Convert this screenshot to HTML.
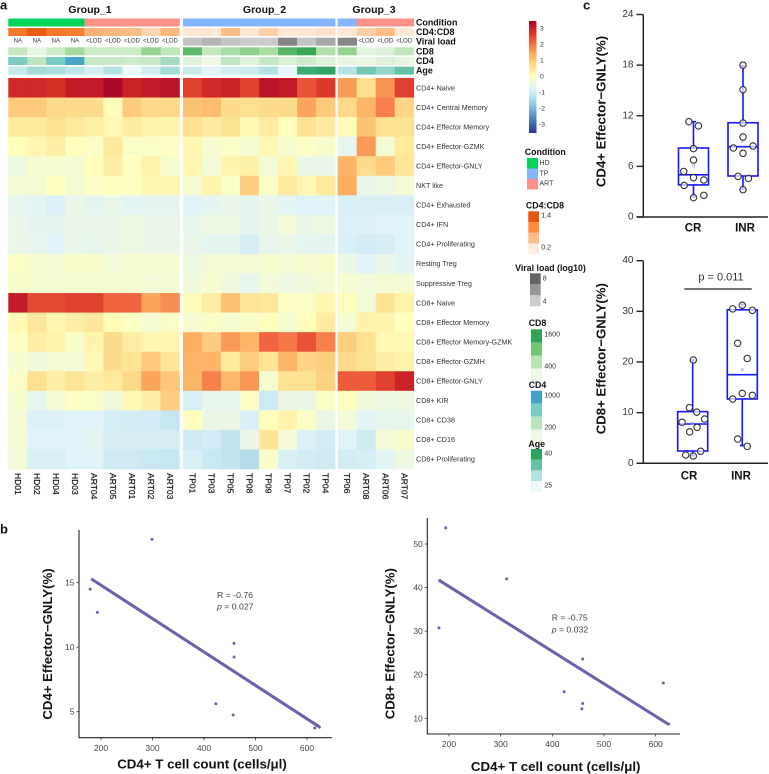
<!DOCTYPE html>
<html lang="en">
<head>
<meta charset="utf-8">
<title>Effector-GNLY heatmap and correlation figure</title>
<style>
html,body{margin:0;padding:0;background:#fff;}
svg{display:block;font-family:"Liberation Sans",sans-serif;}
.t-bold{font-weight:bold;fill:#111;}
.leg-title{font-weight:bold;font-size:8.8px;fill:#111;text-anchor:middle;dominant-baseline:central;}
.leg-label{font-size:7px;fill:#333;dominant-baseline:central;}
.panel{font-weight:bold;font-size:13px;fill:#111;dominant-baseline:central;}
.ytitle{font-weight:bold;font-size:13.2px;fill:#111;text-anchor:middle;dominant-baseline:central;}
.xtitle{font-weight:bold;font-size:13.3px;fill:#111;text-anchor:middle;dominant-baseline:central;}
.stat{font-size:8.7px;fill:#444;dominant-baseline:central;}
</style>
</head>
<body>
<svg id="figure" xmlns="http://www.w3.org/2000/svg" width="769" height="774" viewBox="0 0 769 774">
  <defs>
    <linearGradient id="zgrad" x1="0" y1="0" x2="0" y2="1">
      <stop offset="0" stop-color="#a50026"/><stop offset="0.1" stop-color="#d73027"/><stop offset="0.2" stop-color="#f46d43"/><stop offset="0.3" stop-color="#fdae61"/><stop offset="0.4" stop-color="#fee090"/><stop offset="0.5" stop-color="#ffffbf"/><stop offset="0.6" stop-color="#e0f3f8"/><stop offset="0.7" stop-color="#abd9e9"/><stop offset="0.8" stop-color="#74add1"/><stop offset="0.9" stop-color="#4575b4"/><stop offset="1" stop-color="#313695"/>
    </linearGradient>
  </defs>
  <rect width="769" height="774" fill="#fff"/>
  <text class="panel" x="0" y="5">a</text>
  <text class="panel" x="0" y="529">b</text>
  <text class="panel" x="583" y="5">c</text>

  <g id="heatmap"></g>

  <g id="colorbar">
    <rect x="529" y="21" width="7.5" height="112" fill="url(#zgrad)"/>
  </g>

  <g>
    <text class="leg-title" x="545.3" y="152">Condition</text>
    <rect x="527" y="158" width="11" height="10.5" fill="#00d35a"/>
    <rect x="527" y="168.5" width="11" height="10.5" fill="#84b6ff"/>
    <rect x="527" y="179" width="11" height="10.5" fill="#ff9288"/>
    <text class="leg-label" x="539.5" y="163.5">HD</text>
    <text class="leg-label" x="539.5" y="174">TP</text>
    <text class="leg-label" x="539.5" y="184">ART</text>
  </g>
  <g>
    <text class="leg-title" x="545" y="205.5">CD4:CD8</text>
    <rect x="528.3" y="211.3" width="10.7" height="10.8" fill="#e6550d"/>
    <rect x="528.3" y="222" width="10.7" height="10.8" fill="#fd8d3c"/>
    <rect x="528.3" y="232.7" width="10.7" height="10.8" fill="#fdbe85"/>
    <rect x="528.3" y="243.4" width="10.7" height="10.8" fill="#feedde"/>
    <text class="leg-label" x="541.3" y="216">1.4</text>
    <text class="leg-label" x="541.3" y="248">0.2</text>
  </g>
  <g>
    <text class="leg-title" x="550.5" y="268">Viral load (log10)</text>
    <rect x="530" y="273.3" width="10.7" height="11" fill="#636363"/>
    <rect x="530" y="284.3" width="10.7" height="11" fill="#969696"/>
    <rect x="530" y="295.3" width="10.7" height="11" fill="#cccccc"/>
    <text class="leg-label" x="542.7" y="279">8</text>
    <text class="leg-label" x="542.7" y="302">4</text>
  </g>
  <g>
    <text class="leg-title" x="537.5" y="323">CD8</text>
    <rect x="531" y="329.3" width="11" height="13.1" fill="#31a354"/>
    <rect x="531" y="342.4" width="11" height="13.1" fill="#74c476"/>
    <rect x="531" y="355.5" width="11" height="13.1" fill="#bae4b3"/>
    <rect x="531" y="368.6" width="11" height="13.1" fill="#edf8e9"/>
    <text class="leg-label" x="544.4" y="335">1600</text>
    <text class="leg-label" x="544.4" y="367">400</text>
  </g>
  <g>
    <text class="leg-title" x="537.5" y="385">CD4</text>
    <rect x="531" y="390.7" width="11" height="13" fill="#43a2ca"/>
    <rect x="531" y="403.7" width="11" height="13" fill="#7bccc4"/>
    <rect x="531" y="416.7" width="11" height="13" fill="#bae4bc"/>
    <rect x="531" y="429.7" width="11" height="13" fill="#f0f9e8"/>
    <text class="leg-label" x="544.4" y="396">1000</text>
    <text class="leg-label" x="544.4" y="428">200</text>
  </g>
  <g>
    <text class="leg-title" x="536.7" y="444">Age</text>
    <rect x="531" y="449" width="11" height="10.7" fill="#2ca25f"/>
    <rect x="531" y="459.7" width="11" height="10.7" fill="#66c2a4"/>
    <rect x="531" y="470.4" width="11" height="10.7" fill="#b2e2e2"/>
    <rect x="531" y="481.1" width="11" height="10.7" fill="#edf8fb"/>
    <text class="leg-label" x="544.4" y="454">40</text>
    <text class="leg-label" x="544.4" y="486">25</text>
  </g>

  <g id="boxTop">
    <text class="ytitle" transform="translate(601,111.5) rotate(-90)">CD4+ Effector−GNLY(%)</text>
  </g>
  <g id="boxBottom">
    <text class="ytitle" transform="translate(601,358.7) rotate(-90)">CD8+ Effector−GNLY(%)</text>
    <line x1="684.3" x2="751.7" y1="289" y2="289" stroke="#222" stroke-width="1.2"/>
    <text x="721" y="277.7" font-size="11" fill="#333" text-anchor="middle" dominant-baseline="central">p = 0.011</text>
  </g>

  <g id="scatterLeft">
    <text class="ytitle" transform="translate(47.7,644) rotate(-90)">CD4+ Effector−GNLY(%)</text>
    <text class="xtitle" x="202" y="764">CD4+ T cell count (cells/μl)</text>
    <text class="stat" x="217" y="595">R = -0.76</text>
    <text class="stat" x="217" y="606.7"><tspan font-style="italic">p</tspan> = 0.027</text>
  </g>
  <g id="scatterRight">
    <text class="ytitle" transform="translate(390,643.7) rotate(-90)">CD8+ Effector−GNLY(%)</text>
    <text class="xtitle" x="555.7" y="766.5">CD4+ T cell count (cells/μl)</text>
    <text class="stat" x="551.7" y="617.7">R = -0.75</text>
    <text class="stat" x="551.7" y="629.3"><tspan font-style="italic">p</tspan> = 0.032</text>
  </g>
</svg>
<script>
// ---- heatmap data ----
const sampleLabels = ["HD01","HD02","HD04","HD03","ART04","ART05","ART01","ART02","ART03","TP01","TP03","TP05","TP08","TP09","TP07","TP02","TP04","TP06","ART08","ART06","ART07"];
const groupNames = ["Group_1","Group_2","Group_3"];
const groupSizes = [9,8,4];
const rowLabels = ["CD4+ Naive","CD4+ Central Memory","CD4+ Effector Memory","CD4+ Effector-GZMK","CD4+ Effector-GNLY","NKT like","CD4+ Exhausted","CD4+ IFN","CD4+ Proliferating","Resting Treg","Suppressive Treg","CD8+ Naive","CD8+ Effector Memory","CD8+ Effector Memory-GZMK","CD8+ Effector-GZMH","CD8+ Effector-GNLY","CD8+ KIR","CD8+ CD38","CD8+ CD16","CD8+ Proliferating"];
const heatValues = [
 [2.9,2.9,2.8,3.1,3.1,3.4,3.0,3.1,3.2, 2.6,2.9,3.0,2.6,3.2,3.1,2.4,2.7, 1.6,0.7,1.7,2.6],
 [1.0,1.0,0.8,0.75,0.75,0.1,1.0,0.8,0.8, 1.1,1.2,0.75,0.7,0.75,0.75,1.5,1.0, 0.8,1.3,1.9,0.85],
 [0.5,0.5,0.7,0.5,0.35,0.15,0.45,0.3,0.25, 0.7,0.45,0.65,0.15,0.45,0.05,0.65,0.45, 0.1,1.1,0.7,0.65],
 [0.05,0.2,0.4,0.05,-0.1,0.5,-0.1,-0.1,-0.05, 0.2,-0.2,-0.1,-0.25,0.15,-0.2,-0.05,-0.15, -0.55,1.6,-0.25,0.5],
 [-0.4,-0.2,-0.2,-0.3,0.05,0.4,0.0,0.3,-0.2, 0.2,-0.3,0.25,0.35,-0.3,0.2,-0.5,-0.5, 1.3,0.75,1.0,0.55],
 [-0.25,-0.25,0.0,-0.25,-0.05,0.0,-0.05,0.2,0.2, -0.2,0.25,-0.1,0.95,-0.1,0.5,0.15,0.5, 1.4,-0.5,-0.4,-0.25],
 [-0.55,-0.65,-0.75,-0.5,-0.6,-0.5,-0.65,-0.6,-0.6, -0.7,-0.6,-0.5,-0.6,-0.5,-0.65,-0.7,-0.7, -0.8,-0.8,-0.8,-0.8],
 [-0.5,-0.6,-0.6,-0.5,-0.5,-0.5,-0.4,-0.5,-0.5, -0.55,-0.4,-0.4,-0.6,-0.5,-0.3,-0.5,-0.4, -0.75,-0.75,-0.7,-0.7],
 [-0.5,-0.55,-0.7,-0.5,-0.55,-0.5,-0.4,-0.5,-0.5, -0.5,-0.6,-0.6,-0.85,-0.55,-0.5,-0.6,-0.6, -0.8,-0.9,-0.85,-0.7],
 [-0.1,-0.2,-0.3,-0.15,-0.15,-0.3,-0.2,-0.2,-0.2, -0.4,-0.3,-0.3,-0.3,-0.2,-0.3,-0.2,-0.15, -0.45,-0.7,-0.5,-0.65],
 [-0.15,-0.2,-0.2,-0.2,-0.2,-0.2,-0.2,-0.3,-0.25, -0.35,-0.2,-0.35,-0.55,-0.3,-0.4,-0.35,-0.25, -0.2,-0.3,-0.25,-0.25],
 [3.1,2.5,2.5,2.6,2.6,2.2,2.2,1.5,1.75, 0.1,0.4,1.1,0.6,0.55,-0.05,-0.1,0.2, 0.05,-0.3,0.65,0.3],
 [0.15,0.55,0.2,0.4,0.55,0.1,-0.05,-0.25,-0.1, -0.2,-0.1,-0.2,-0.15,0.05,-0.2,0.05,0.45, -0.25,0.3,0.3,0.0],
 [-0.05,0.4,0.3,-0.15,0.25,0.75,0.4,0.2,0.2, 1.4,1.0,1.6,1.3,2.2,2.0,2.4,1.9, 0.95,0.7,0.15,0.15],
 [-0.2,-0.35,-0.25,-0.3,0.15,0.75,0.6,1.0,0.6, 1.3,1.3,0.5,0.95,0.6,1.3,0.85,0.95, 0.8,0.65,0.4,0.3],
 [-0.1,0.7,0.4,0.6,0.4,0.5,0.8,1.5,1.05, 1.3,1.9,1.25,1.65,-0.2,0.65,0.65,0.9, 2.3,2.3,2.6,3.0],
 [-0.2,-0.55,-0.3,-0.05,-0.1,-0.35,0.15,0.4,0.95, -0.8,-0.55,-0.55,-0.05,-0.95,-0.45,-0.45,-0.1, 0.05,-0.35,-0.4,-0.4],
 [-0.25,-0.75,-0.75,-0.7,-0.7,-0.85,-0.9,-0.9,-1.05, 0.0,-0.45,-0.45,-0.8,0.05,0.3,-0.1,-0.45, -0.3,-0.65,-0.55,-0.55],
 [-0.25,-0.7,-0.7,-0.7,-0.6,-0.85,-0.85,-0.85,-0.85, -0.95,-0.9,-1.1,-0.5,0.6,-0.3,-0.75,-0.9, -0.7,-0.95,-0.3,-0.15],
 [-0.3,-0.8,-0.8,-0.7,-0.7,-0.95,-0.95,-1.0,-1.05, -0.8,-1.0,-1.1,-1.3,-0.15,-0.8,-0.9,-0.95, -0.9,-0.85,-0.65,-0.4]
];
const colorbarTicks = [3,2,1,0,-1,-2,-3];
const conditionValues = ["HD","HD","HD","HD","ART","ART","ART","ART","ART","TP","TP","TP","TP","TP","TP","TP","TP","TP","ART","ART","ART"];
const ratioValues = [1.15,1.35,1.15,1.1,0.7,0.65,0.6,0.4,0.65, 0.25,0.25,0.6,0.25,0.45,0.25,0.25,0.3, 0.25,0.45,0.6,0.25];
const viralValues = ["NA","NA","NA","NA","<LOD","<LOD","<LOD","<LOD","<LOD", 4.5,5,4.5,4.2,4.2,6.7,4.5,5.4, 6.6,"<LOD","<LOD","<LOD"];
const cd8Values = [600,300,550,850,550,550,550,950,650, 1300,600,800,1000,800,1350,1550,750, 950,350,400,650];
const cd4Values = [740,450,740,980,400,400,380,400,570, 300,200,440,290,420,310,370,290, 240,230,300,240];
const ageValues = [28.5,31,30.5,28.8,27,30,25,27.5,31, 28,26,27.5,27.8,30,25.5,38.5,39.5, 30,34,32,35];

// ---- box plot data ----
const boxCategories = ["CR","INR"];
const cd4BoxTicks = [0,6,12,18,24];
const cd4CrValues = [11.3,10.8,8.1,6.75,5.4,4.66,4.38,3.75,2.57,2.3];
const cd4CrJitter = [-0.31,0.33,0,0,-0.65,0,0.69,-0.62,0.69,0];
const cd4InrValues = [18,15.1,11.14,9.48,8.18,8.41,7.55,4.82,4.58,3.24];
const cd4InrJitter = [0,0,0,0,-0.64,0.67,0,-0.33,0.36,0];
const cd4CrStats = [2.4,3.8,5.0,8.18,11.3,6.04];
const cd4InrStats = [3.3,4.86,8.33,11.17,17.9,9.0];
const cd8BoxTicks = [0,10,20,30,40];
const cd8CrValues = [20.4,11.0,10.1,8.75,8.1,7.1,6.2,2.37,1.64,1.44];
const cd8CrJitter = [0.04,-0.22,0.27,0.8,-0.71,0.29,-0.2,0.53,-0.47,0.04];
const cd8InrValues = [31.2,30.5,30.2,23.7,20.7,13.8,13.4,12.7,4.8,3.35];
const cd8InrJitter = [0,-0.64,0.67,-0.31,0.33,0,0.67,-0.64,-0.31,0.33];
const cd8CrStats = [1.5,2.43,7.76,10.2,20.4,7.9];
const cd8InrStats = [3.5,12.7,17.5,30.3,31.4,18.5];

// ---- scatter data ----
const scatterXTicks = [200,300,400,500,600];
const leftYTicks = [5,10,15];
const leftCounts = [179,193,299,458.4,458.4,423,456.5,615,624];
const leftGnly = [14.5,12.7,18.36,10.3,9.24,5.62,4.74,3.74,3.8];
const leftFitX = [181,625];
const leftFitY = [15.3,3.8];
const rightYTicks = [10,20,30,40,50];
const rightCounts = [193.6,180.6,311.6,458.7,423,458.7,457,614.7,182,625];
const rightGnly = [53.7,30.75,42,23.6,16.1,13.4,12.2,18.1,41.6,8.7];
const rightFitX = [180.6,625];
const rightFitY = [41.7,8.6];

// ---- helpers ----
const NS = "http://www.w3.org/2000/svg";
function mk(tag, parent, attrs) {
  const e = document.createElementNS(NS, tag);
  for (const k in attrs) e.setAttribute(k, attrs[k]);
  parent.appendChild(e);
  return e;
}
function linear(d0, d1, r0, r1) { return v => r0 + (v - d0) * (r1 - r0) / (d1 - d0); }
function hexRgb(h) { return [1,3,5].map(i => parseInt(h.substr(i,2),16)); }
function ramp(colors, lo, hi) {
  return v => {
    let t = (Math.min(hi, Math.max(lo, v)) - lo) / (hi - lo) * (colors.length - 1);
    const i = Math.min(colors.length - 2, Math.floor(t));
    t -= i;
    const a = hexRgb(colors[i]), b = hexRgb(colors[i + 1]);
    return "rgb(" + a.map((c, j) => Math.round(c + (b[j] - c) * t)).join(",") + ")";
  };
}
const zColor = ramp(["#313695","#4575b4","#74add1","#abd9e9","#e0f3f8","#ffffbf","#fee090","#fdae61","#f46d43","#d73027","#a50026"], -3.5, 3.5);
const ratioColor = ramp(["#feedde","#fdbe85","#fd8d3c","#e6550d"], 0.2, 1.4);
const viralColor = ramp(["#d2d2d2","#969696","#636363"], 4, 8);
const cd8Color = ramp(["#edf8e9","#bae4b3","#74c476","#31a354"], 250, 1600);
const cd4Color = ramp(["#f0f9e8","#bae4bc","#7bccc4","#43a2ca"], 200, 1000);
const ageColor = ramp(["#edf8fb","#b2e2e2","#66c2a4","#2ca25f"], 25, 40);
const conditionColor = { HD: "#00d35a", TP: "#84b6ff", ART: "#ff9288" };

// ---- heatmap ----
const hm = document.getElementById("heatmap");
const groupStart = [8.3, 183, 337.7];
const cellW = 19.02;
const cellH = 19.55;
const heatTop = 78;
function colX(c) {
  let g = 0, off = c;
  while (off >= groupSizes[g]) { off -= groupSizes[g]; g++; }
  return groupStart[g] + off * cellW;
}
groupNames.forEach((name, g) => {
  const cx = [90, 264.5, 374][g];
  const t = mk("text", hm, { x: cx, y: 10, "text-anchor": "middle", "dominant-baseline": "central", "font-size": 10.5, "font-weight": "bold", fill: "#111" });
  t.textContent = name;
  
  
});
heatValues.forEach((row, r) => {
  row.forEach((v, c) => {
    const cell = mk("rect", hm, { x: colX(c), y: heatTop + r * cellH, width: cellW + 0.3, height: cellH + 0.3, fill: zColor(v) });
    
    
  });
  const lab = mk("text", hm, { x: 416, y: heatTop + (r + 0.5) * cellH, "font-size": 7.2, fill: "#333", "dominant-baseline": "central" });
  lab.textContent = rowLabels[r];
  
  
});
sampleLabels.forEach((s, c) => {
  const lab = mk("text", hm, { transform: "translate(" + (colX(c) + cellW / 2) + ",473) rotate(90)", "font-size": 8.5, fill: "#111", stroke: "#111", "stroke-width": 0.2, "dominant-baseline": "central" });
  lab.textContent = s;
  
  
});
const annTracks = [
  { label: "Condition", y: 18.5, values: conditionValues, color: v => conditionColor[v] },
  { label: "CD4:CD8", y: 28, values: ratioValues, color: ratioColor },
  { label: "Viral load", y: 37.7, values: viralValues, color: viralColor },
  { label: "CD8", y: 47.3, values: cd8Values, color: cd8Color },
  { label: "CD4", y: 57, values: cd4Values, color: cd4Color },
  { label: "Age", y: 66.6, values: ageValues, color: ageColor }
];
annTracks.forEach(track => {
  track.values.forEach((v, c) => {
    if (typeof v === "string" && track.label === "Viral load") {
      const t = mk("text", hm, { x: colX(c) + cellW / 2, y: track.y + 4, "font-size": 6, fill: "#333", "text-anchor": "middle", "dominant-baseline": "central" });
      t.textContent = v;
      
      
    } else {
      const cell = mk("rect", hm, { x: colX(c), y: track.y, width: cellW + 0.3, height: 8, fill: track.color(v) });
      
      
    }
  });
  const lab = mk("text", hm, { x: 416, y: track.y + 4, "font-size": 8.9, "font-weight": "bold", fill: "#111", "dominant-baseline": "central" });
  lab.textContent = track.label;
  
  
});

// ---- colorbar ticks ----
const cbg = document.getElementById("colorbar");
const cbY = linear(-3.5, 3.5, 133, 21);
colorbarTicks.forEach(v => {
  const t = mk("text", cbg, { x: v < 0 ? 539 : 540, y: cbY(v), "font-size": 6.8, fill: "#333", "dominant-baseline": "central" });
  t.textContent = v < 0 ? "-" + Math.abs(v) : String(v);
  
  
});

// ---- box plots ----
function drawBoxPlot(g, cfg) {
  const y = linear(cfg.ticks[0], cfg.ticks[cfg.ticks.length - 1], cfg.y0, cfg.y1);
  const blue = "#1616ff";
  const yAxis = mk("line", g, { x1: 643.3, x2: 643.3, y1: cfg.y1, y2: cfg.y0, stroke: "#222", "stroke-width": 1.5 });
  
  
  const xAxis = mk("line", g, { x1: 636.5, x2: 768, y1: cfg.y0, y2: cfg.y0, stroke: "#222", "stroke-width": 1.5 });
  
  
  cfg.ticks.forEach(v => {
    const tick = mk("line", g, { x1: 636.5, x2: 643.3, y1: y(v), y2: y(v), stroke: "#222", "stroke-width": 1.4 });
    
    
    const lab = mk("text", g, { x: 633.5, y: y(v), "font-size": 10, fill: "#333", "text-anchor": "end", "dominant-baseline": "central" });
    lab.textContent = v;
    
    
  });
  cfg.boxes.forEach((b, i) => {
    const cx = b.cx, hw = 15;
    const lab = mk("text", g, { x: b.labelX, y: cfg.y0 + cfg.labelDy, "font-size": 11.5, "font-weight": "bold", fill: "#111", "text-anchor": "middle", "dominant-baseline": "central" });
    lab.textContent = boxCategories[i];
    
    
    const s = b.stats;
    const whisker = mk("path", g, { d: "M" + cx + " " + y(s[3]) + "V" + y(s[4]) + "M" + (cx - 2.5) + " " + y(s[4]) + "H" + (cx + 2.5) + "M" + cx + " " + y(s[1]) + "V" + y(s[0]) + "M" + (cx - 2.5) + " " + y(s[0]) + "H" + (cx + 2.5), stroke: blue, "stroke-width": 1.6, fill: "none" });
    
    
    const box = mk("rect", g, { x: cx - hw, y: y(s[3]), width: 2 * hw, height: y(s[1]) - y(s[3]), stroke: blue, "stroke-width": 1.6, fill: "none" });
    
    
    const med = mk("line", g, { x1: cx - hw, x2: cx + hw, y1: y(s[2]), y2: y(s[2]), stroke: blue, "stroke-width": 1.6 });
    
    
    const mean = mk("rect", g, { x: cx - 1, y: y(s[5]) - 1, width: 2, height: 2, stroke: "#9a9aff", "stroke-width": 0.6, fill: "none" });
    
    
    b.values.forEach((v, k) => {
      const pt = mk("circle", g, { cx: cx + b.jitter[k] * hw, cy: y(v), r: 3.2, fill: "#fff", "fill-opacity": 0.7, stroke: "#333", "stroke-width": 1.1 });
      
      
    });
  });
}
drawBoxPlot(document.getElementById("boxTop"), {
  ticks: cd4BoxTicks, y0: 217, y1: 14.5, labelDy: 11.5,
  boxes: [
    { cx: 693.5, labelX: 693, stats: cd4CrStats, values: cd4CrValues, jitter: cd4CrJitter },
    { cx: 743, labelX: 745, stats: cd4InrStats, values: cd4InrValues, jitter: cd4InrJitter }
  ]
});
drawBoxPlot(document.getElementById("boxBottom"), {
  ticks: cd8BoxTicks, y0: 463.3, y1: 260.7, labelDy: 13.4,
  boxes: [
    { cx: 692.7, labelX: 689, stats: cd8CrStats, values: cd8CrValues, jitter: cd8CrJitter },
    { cx: 742.3, labelX: 741, stats: cd8InrStats, values: cd8InrValues, jitter: cd8InrJitter }
  ]
});

// ---- scatter plots ----
function drawScatter(g, cfg) {
  const purple = "#6a62aa";
  const x = cfg.x, y = cfg.y;
  const axis = mk("path", g, { d: "M" + cfg.left + " " + cfg.top + "V" + cfg.bottom + "H" + cfg.right, stroke: "#222", "stroke-width": 1.1, fill: "none" });
  
  
  scatterXTicks.forEach(v => {
    const tick = mk("line", g, { x1: x(v), x2: x(v), y1: cfg.bottom, y2: cfg.bottom + 2.5, stroke: "#333", "stroke-width": 0.8 });
    
    
    const lab = mk("text", g, { x: x(v), y: cfg.bottom + cfg.tickDy, "font-size": 8.5, fill: "#444", "text-anchor": "middle", "dominant-baseline": "central" });
    lab.textContent = v;
    
    
  });
  cfg.yTicks.forEach(v => {
    const tick = mk("line", g, { x1: cfg.left - 2.5, x2: cfg.left, y1: y(v), y2: y(v), stroke: "#333", "stroke-width": 0.8 });
    
    
    const lab = mk("text", g, { x: cfg.left - 4.5, y: y(v), "font-size": 8.5, fill: "#444", "text-anchor": "end", "dominant-baseline": "central" });
    lab.textContent = v;
    
    
  });
  cfg.xs.forEach((v, i) => {
    const pt = mk("circle", g, { cx: x(v), cy: y(cfg.ys[i]), r: 1.5, fill: purple });
    
    
  });
  const fit = mk("line", g, { x1: x(cfg.fitX[0]), y1: y(cfg.fitY[0]), x2: x(cfg.fitX[1]), y2: y(cfg.fitY[1]), stroke: purple, "stroke-width": 3 });
  
  
}
drawScatter(document.getElementById("scatterLeft"), {
  x: linear(200, 600, 101, 307), y: linear(5, 15, 711.7, 582.7),
  left: 79, right: 331.7, top: 530, bottom: 737.7, tickDy: 10.5,
  yTicks: leftYTicks, xs: leftCounts, ys: leftGnly, fitX: leftFitX, fitY: leftFitY
});
drawScatter(document.getElementById("scatterRight"), {
  x: linear(200, 600, 449, 655.7), y: linear(10, 50, 718.3, 544),
  left: 427.3, right: 680, top: 518, bottom: 734, tickDy: 10,
  yTicks: rightYTicks, xs: rightCounts, ys: rightGnly, fitX: rightFitX, fitY: rightFitY
});
</script>
</body>
</html>
